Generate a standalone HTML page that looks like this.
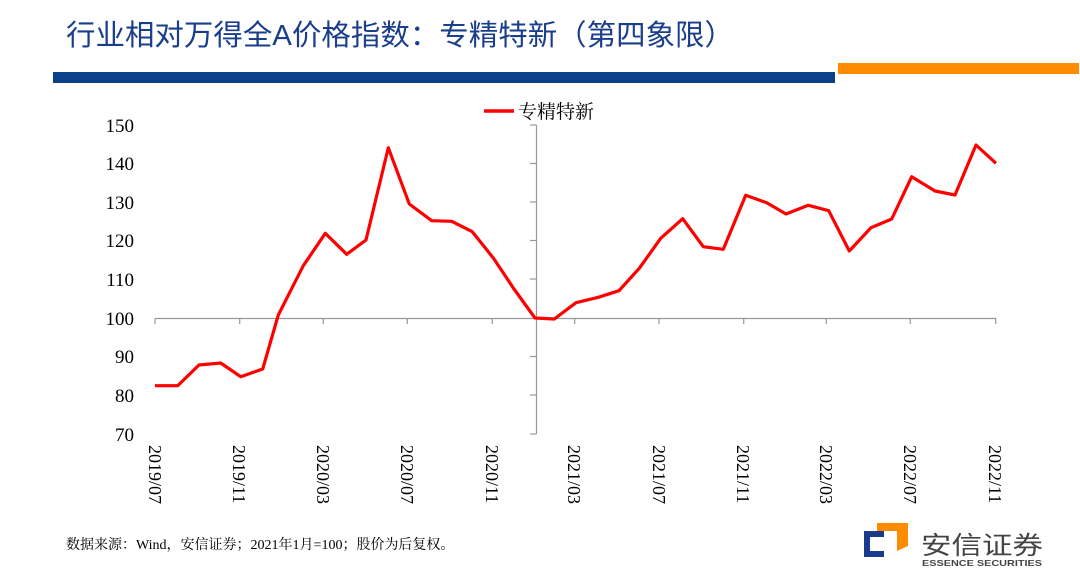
<!DOCTYPE html>
<html><head><meta charset="utf-8"><style>
body{margin:0;background:#fff;width:1080px;height:582px;overflow:hidden;position:relative}
</style></head><body>
<svg width="1080" height="582" xmlns="http://www.w3.org/2000/svg" style="position:absolute;left:0;top:0">
<text x="66" y="45" font-family="Liberation Sans, Noto Sans CJK SC, sans-serif" font-size="29" fill="#1a3e8c" textLength="668" lengthAdjust="spacingAndGlyphs">行业相对万得全A价格指数：专精特新（第四象限）</text>
<rect x="53" y="72" width="782" height="11" fill="#0c4189"/>
<rect x="838" y="63" width="241" height="11" fill="#ff8c00"/>
<g stroke="#999" stroke-width="1.2" fill="none">
<line x1="536.5" y1="125" x2="536.5" y2="434"/>
<line x1="530" y1="125" x2="536.5" y2="125"/>
<line x1="530" y1="163.5" x2="536.5" y2="163.5"/>
<line x1="530" y1="202" x2="536.5" y2="202"/>
<line x1="530" y1="240.5" x2="536.5" y2="240.5"/>
<line x1="530" y1="279" x2="536.5" y2="279"/>
<line x1="530" y1="356.5" x2="536.5" y2="356.5"/>
<line x1="530" y1="395" x2="536.5" y2="395"/>
<line x1="530" y1="434" x2="536.5" y2="434"/>
<line x1="155" y1="318.5" x2="996" y2="318.5"/>
<line x1="155" y1="318.5" x2="155" y2="324"/>
<line x1="239.7" y1="318.5" x2="239.7" y2="324"/>
<line x1="323.3" y1="318.5" x2="323.3" y2="324"/>
<line x1="407.3" y1="318.5" x2="407.3" y2="324"/>
<line x1="492.3" y1="318.5" x2="492.3" y2="324"/>
<line x1="574.7" y1="318.5" x2="574.7" y2="324"/>
<line x1="659" y1="318.5" x2="659" y2="324"/>
<line x1="743.7" y1="318.5" x2="743.7" y2="324"/>
<line x1="826.3" y1="318.5" x2="826.3" y2="324"/>
<line x1="910.3" y1="318.5" x2="910.3" y2="324"/>
<line x1="995.7" y1="318.5" x2="995.7" y2="324"/>
</g>
<g font-family="Liberation Serif, serif" font-size="19" fill="#000" text-anchor="end">
<text x="134" y="132">150</text><text x="134" y="170">140</text><text x="134" y="209">130</text>
<text x="134" y="247">120</text><text x="134" y="286">110</text><text x="134" y="325">100</text>
<text x="134" y="363">90</text><text x="134" y="402">80</text><text x="134" y="441">70</text>
</g>
<g font-family="Liberation Serif, serif" font-size="18" fill="#000">
<text transform="translate(149,445) rotate(90)">2019/07</text>
<text transform="translate(233,445) rotate(90)">2019/11</text>
<text transform="translate(317,445) rotate(90)">2020/03</text>
<text transform="translate(401,445) rotate(90)">2020/07</text>
<text transform="translate(486,445) rotate(90)">2020/11</text>
<text transform="translate(568,445) rotate(90)">2021/03</text>
<text transform="translate(653,445) rotate(90)">2021/07</text>
<text transform="translate(737,445) rotate(90)">2021/11</text>
<text transform="translate(820,445) rotate(90)">2022/03</text>
<text transform="translate(904,445) rotate(90)">2022/07</text>
<text transform="translate(989,445) rotate(90)">2022/11</text>
</g>
<line x1="484" y1="111" x2="514" y2="111" stroke="#ff0000" stroke-width="3.5"/>
<text x="518" y="118" font-family="Liberation Serif, Noto Serif CJK SC, serif" font-size="19" fill="#000">专精特新</text>
<polyline fill="none" stroke="#ff0000" stroke-width="3.2" stroke-linejoin="round" points="155,385.7 177.7,385.7 199,365 220.7,363 240.7,376.7 262.7,369 278.3,315 303.3,265.7 325.3,233.3 346.7,254.3 366,240 388.3,147.7 409.3,204 431.7,220.7 451.7,221.3 472.3,231.7 493.3,258 513.3,288 535,318 554.3,319 576,302.7 598.3,297.3 619,290.7 639.3,268.3 660.7,238.3 682.7,218.7 703.3,246.7 723.3,249.3 745.7,195.3 766.7,202.7 786,214 808.3,205.3 828.7,210.7 849.3,251 871,227.7 891.7,219 911.7,176.7 935,191 955,195 976,145 996,163.3"/>
<text x="66" y="549" font-family="Liberation Serif, Noto Serif CJK SC, serif" font-size="14" fill="#000">数据来源：Wind，安信证券；2021年1月=100；股价为后复权。</text>
<rect x="864" y="531" width="20" height="26" fill="#1a3a8c"/>
<rect x="870" y="537" width="20" height="14" fill="#fff"/>
<polygon points="877,523 908,523 908,546 897,551 897,531 877,531" fill="#ff8c00"/>
<text x="921" y="554" font-family="Liberation Sans, Noto Sans CJK SC, sans-serif" font-size="25" fill="#444" textLength="122" lengthAdjust="spacingAndGlyphs">安信证券</text>
<text x="922" y="566" font-family="Liberation Sans, sans-serif" font-size="8.5" font-weight="bold" fill="#444" textLength="120" lengthAdjust="spacingAndGlyphs">ESSENCE SECURITIES</text>
</svg>
</body></html>
